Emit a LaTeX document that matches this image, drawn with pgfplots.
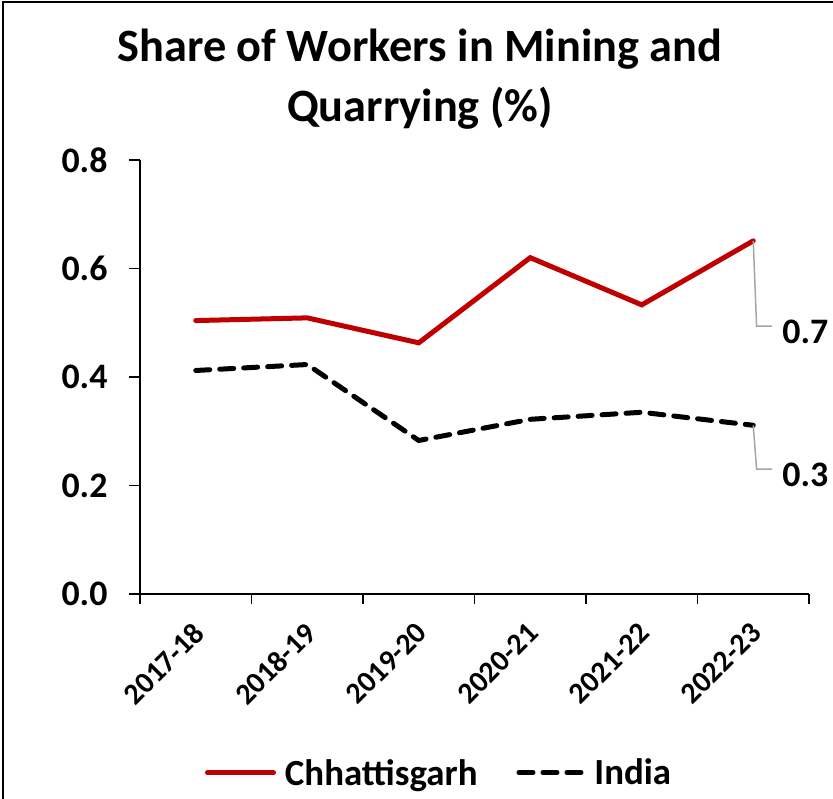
\documentclass[border=0pt]{standalone}
\usepackage{pgfplots}
\pgfplotsset{compat=1.18}
\usepackage{fontspec}
\setmainfont{Carlito}
\definecolor{cgred}{RGB}{192,0,0}
\begin{document}
\begin{tikzpicture}
\useasboundingbox (0bp,0bp) rectangle (833bp,799bp);
\draw[line width=2bp] (3bp,0bp) -- (3bp,797bp) -- (833bp,797bp);
\node[font=\bfseries\fontsize{46.5}{60}\selectfont, align=center] at (420bp,720bp) {Share of Workers in Mining and\\Quarrying (\%)};
\begin{axis}[
  at={(140bp,205bp)}, anchor=south west,
  scale only axis, width=669bp, height=434bp,
  xmin=-0.5, xmax=5.5, ymin=0, ymax=0.8,
  axis x line=bottom, axis y line=left,
  axis line style={-, line width=1.5bp, black},
  xtick={0,1,2,3,4,5},
  xticklabels={2017-18,2018-19,2019-20,2020-21,2021-22,2022-23},
  major x tick style={draw=none},
  minor xtick={-0.5,0.5,1.5,2.5,3.5,4.5,5.5},
  minor x tick style={line width=1.5bp, black},
  ytick={0,0.2,0.4,0.6,0.8},
  y tick style={line width=1.5bp, black},
  tick align=outside,
  major tick length=11bp, minor tick length=10bp,
  /pgf/number format/assume math mode=true,
  /pgf/number format/fixed, /pgf/number format/fixed zerofill, /pgf/number format/precision=1,
  ticklabel style={font=\bfseries\fontsize{36}{40}\selectfont},
  yticklabel style={xshift=-18bp},
  xticklabel style={font=\bfseries\fontsize{30}{34}\selectfont, xshift=-4bp, yshift=-11bp, rotate=45, anchor=north east},
  legend style={at={(0.447,-0.412)}, anchor=center, draw=none, fill=none, font=\bfseries\fontsize{37}{42}\selectfont, /tikz/every even column/.append style={column sep=37bp}},
  legend columns=2,
  legend image code/.code={\draw[#1] (0bp,0bp) -- (66bp,0bp);},
  clip=false,
]
\addplot[cgred, line width=5bp, line cap=round] coordinates {(0,0.504) (1,0.509) (2,0.463) (3,0.620) (4,0.533) (5,0.651)};
\addlegendentry{\hspace{7bp}Chhattisgarh}
\addplot[black, line width=5bp, line cap=round, dash pattern=on 14bp off 10bp] coordinates {(0,0.412) (1,0.423) (2,0.283) (3,0.322) (4,0.335) (5,0.311)};
\addlegendentry{\hspace{5bp}India}
\draw[gray!70, line width=1.5bp] (axis cs:5,0.651) -- (axis cs:5.03,0.494) -- (axis cs:5.17,0.494);
\draw[gray!70, line width=1.5bp] (axis cs:5,0.311) -- (axis cs:5.03,0.230) -- (axis cs:5.17,0.230);
\node[anchor=west, font=\bfseries\fontsize{36}{40}\selectfont, inner sep=0pt] at (axis cs:5.26,0.484) {0.7};
\node[anchor=west, font=\bfseries\fontsize{36}{40}\selectfont, inner sep=0pt] at (axis cs:5.26,0.220) {0.3};
\end{axis}
\end{tikzpicture}
\end{document}
